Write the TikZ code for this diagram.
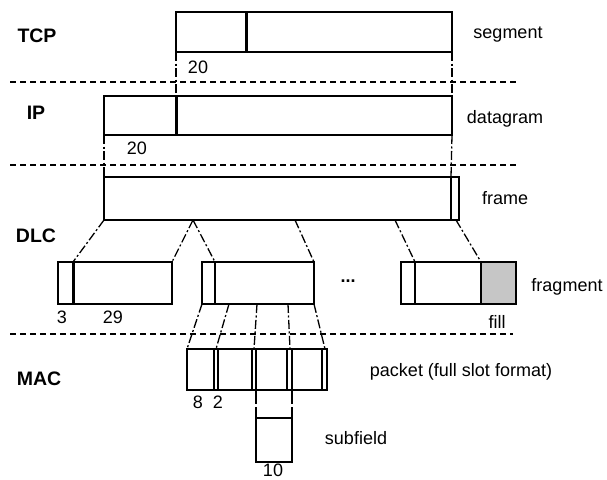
\documentclass[tikz,border=0pt]{standalone}
\usepackage{fontspec}
\setmainfont{Liberation Sans}
\begin{document}
\begin{tikzpicture}[x=1pt,y=-1pt,
  box/.style={draw, line width=1.4pt, inner sep=0pt, outer sep=0pt, anchor=north west},
  thin/.style={line width=1.4pt},
  thickdiv/.style={line width=3pt},
  dd/.style={line width=1.3pt, dash pattern=on 9pt off 2.5pt on 2pt off 2.5pt},
  hdash/.style={line width=1.4pt, dash pattern=on 6pt off 4pt},
  vdash/.style={line width=1.3pt, dash pattern=on 14pt off 3pt},
  lbl/.style={inner sep=0pt, font=\fontsize{18}{20}\selectfont},
  layer/.style={inner sep=0pt, font=\fontsize{19.5}{22}\selectfont\bfseries}]
\useasboundingbox (0,0) rectangle (607,479);

% ---------- TCP ----------
\node[box, minimum width=276pt, minimum height=40pt] (tcp) at (176,12) {};
\coordinate (tcpdiv) at (246,12);
\draw[thickdiv] (tcpdiv) -- (tcpdiv |- tcp.south);

% ---------- IP ----------
\node[box, minimum width=348pt, minimum height=39pt] (ip) at (104,96) {};
\coordinate (ipdiv) at (176,96);
\draw[thickdiv] (ipdiv) -- (ipdiv |- ip.south);

% ---------- frame ----------
\node[box, minimum width=355pt, minimum height=43pt] (frame) at (104,177) {};
\coordinate (frin) at (451,177);
\draw[thin] (frin) -- (frin |- frame.south);

% ---------- fragments ----------
\node[box, minimum width=114pt, minimum height=42pt] (f1) at (58,262) {};
\coordinate (f1div) at (73,262);
\draw[thickdiv] (f1div) -- (f1div |- f1.south);

\node[box, minimum width=112pt, minimum height=42pt] (f2) at (202,262) {};
\coordinate (f2div) at (215,262);
\draw[thin] (f2div) -- (f2div |- f2.south);

\node[box, minimum width=115pt, minimum height=42pt] (f3) at (401,262) {};
\coordinate (f3div) at (415,262);
\coordinate (f3fill) at (481,262);
\fill[gray!45] (f3fill) rectangle (f3.south east);
\draw[thin] (f3div) -- (f3div |- f3.south);
\draw[thin] (f3fill) -- (f3fill |- f3.south);
\draw[line width=1.8pt] (f3.north west) rectangle (f3.south east);

% ---------- packet ----------
\node[box, minimum width=140pt, minimum height=41pt] (pk) at (187,349) {};
\foreach \xx in {214,218,252,256,287,292,322}
  \draw[thin] (\xx,349) -- (\xx,390);
\coordinate (pk1) at (216,349);
\coordinate (pk2) at (254,349);
\coordinate (pk3) at (290,349);
\coordinate (pk4) at (325,349);

% ---------- subfield ----------
\node[box, minimum width=36pt, minimum height=44pt] (sub) at (256,418) {};
\coordinate (pkb1) at (256,390);
\coordinate (pkb2) at (292,390);
\draw[vdash] (pkb1) -- (sub.north west);
\draw[vdash] (pkb2) -- (sub.north east);

% ---------- layer separators ----------
\coordinate (h1a) at (10,82);  \coordinate (h1b) at (517,82);
\coordinate (h2a) at (10,165); \coordinate (h2b) at (517,165);
\coordinate (h3a) at (10,334); \coordinate (h3b) at (513,334);
\draw[hdash] (h1a) -- (h1b);
\draw[hdash] (h2a) -- (h2b);
\draw[hdash] (h3a) -- (h3b);

% ---------- connectors ----------
\draw[dd] (tcp.south west) -- (ipdiv);
\draw[dd] (tcp.south east) -- (ip.north east);
\draw[dd] (ip.south west) -- (frame.north west);
\draw[dd] (ip.south east) -- (frin);

\coordinate (fb1) at (193,220);
\coordinate (fb2) at (295,220);
\coordinate (fb3) at (395,220);
\coordinate (fb4) at (456,220);
\draw[dd] (frame.south west) -- (f1div);
\draw[dd] (fb1) -- (f1.north east);
\draw[dd] (fb1) -- (f2div);
\draw[dd] (fb2) -- (f2.north east);
\draw[dd] (fb3) -- (f3div);
\draw[dd] (fb4) -- (f3fill);

\coordinate (pb1) at (229,304);
\coordinate (pb2) at (257,304);
\coordinate (pb3) at (288,304);
\draw[dd] (f2.south west) -- (pk.north west);
\draw[dd] (pb1) -- (pk1);
\draw[dd] (pb2) -- (pk2);
\draw[dd] (pb3) -- (pk3);
\draw[dd] (f2.south east) -- (pk4);

% ---------- labels ----------
\node[layer] (ltcp) at (37,36) {TCP};
\node[layer] (lip) at (36,113) {IP};
\node[layer] (ldlc) at (36,236) {DLC};
\node[layer] (lmac) at (39,379) {MAC};

\node[lbl] (t20) at (198,67) {20};
\node[lbl] (i20) at (137,148) {20};
\node[lbl] (lseg) at (508,35) {segment};
\node[lbl] (ldat) at (505,119) {datagram};
\node[lbl] (lfr) at (505,198) {frame};
\node[lbl] (l3) at (62,317) {3};
\node[lbl] (l29) at (113,317) {29};
\node[lbl] (ldots) at (348,281) {\textbf{...}};
\node[lbl] (lfill) at (497,322) {fill};
\node[lbl] (lfrag) at (567,287) {fragment};
\node[lbl] (l8) at (198,402) {8};
\node[lbl] (l2) at (218,402) {2};
\node[lbl] (lpk) at (461,372) {packet (full slot format)};
\node[lbl] (lsub) at (356,438) {subfield};
\node[lbl] (l10) at (273,470) {10};
\end{tikzpicture}
\end{document}
